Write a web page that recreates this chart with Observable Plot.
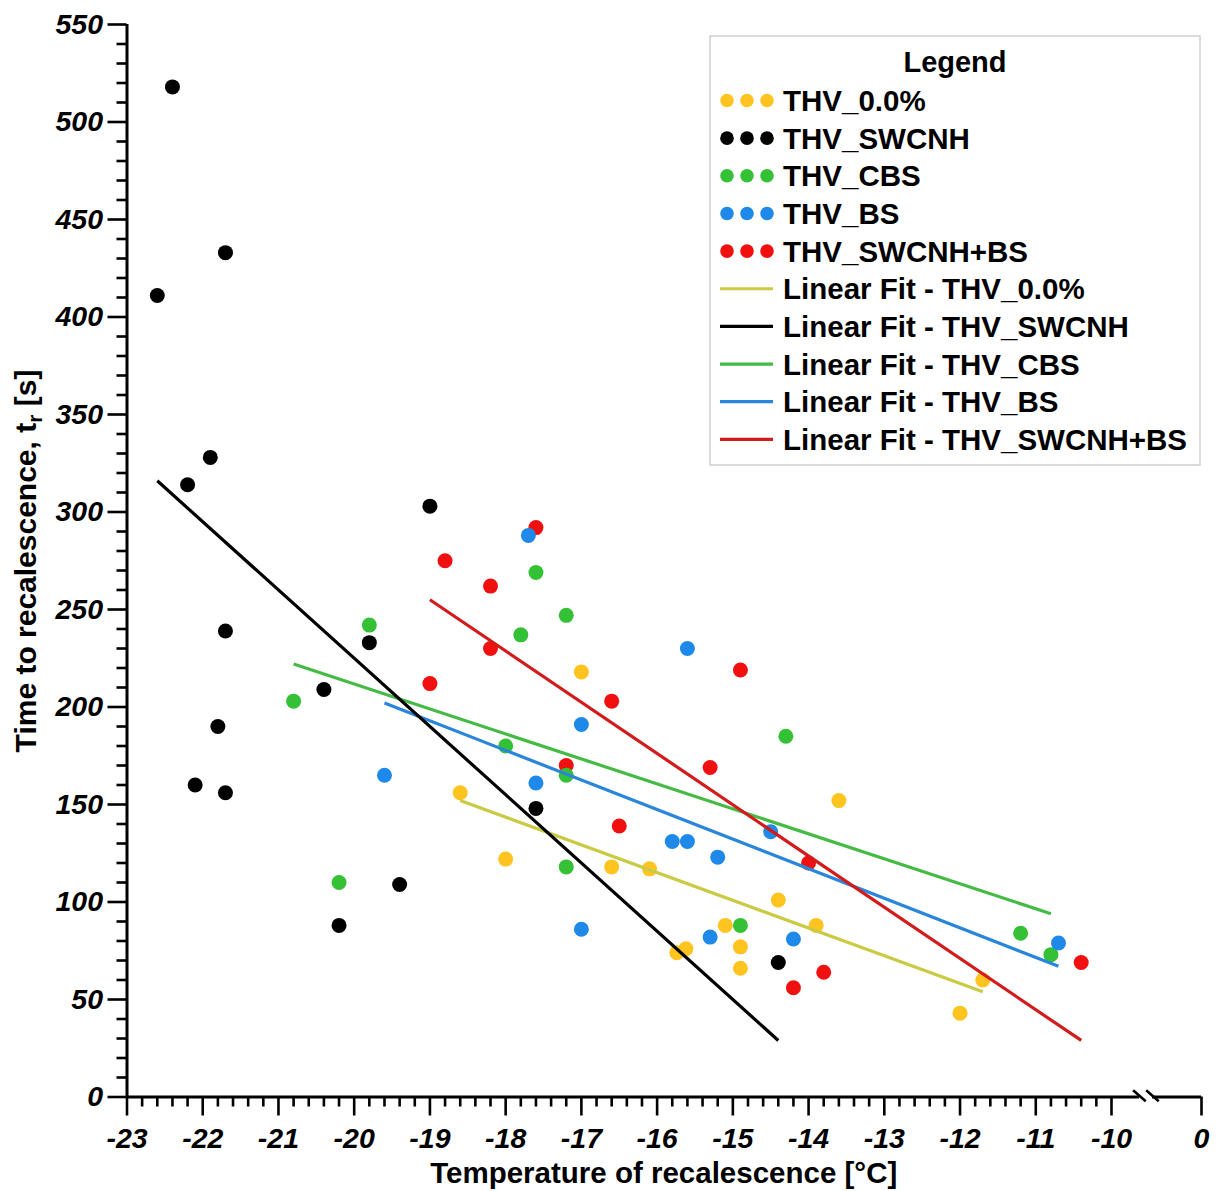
<!DOCTYPE html>
<html><head><meta charset="utf-8">
<script src="https://cdn.jsdelivr.net/npm/d3@7"></script>
<script src="https://cdn.jsdelivr.net/npm/@observablehq/plot@0.6"></script>
<style>
body{margin:0;background:#fff;}
#wrap{width:1226px;height:1191px;}
</style></head><body><div id="wrap"></div>
<script>
// ---- series ----
const series = ["THV_0.0%", "THV_SWCNH", "THV_CBS", "THV_BS", "THV_SWCNH+BS"];
const dotColors = ["#FFC41F", "#000000", "#35C135", "#1F89EA", "#F01010"];
const fitColors = ["#CACA44", "#000000", "#45BB45", "#2A86DA", "#D21B1B"];

// THV_0.0%
const x00 = [-18.6, -17.0, -18.0, -16.6, -16.1, -13.6, -14.4, -15.1, -13.9, -14.9, -14.9, -11.7, -12.0, -15.74, -15.62];
const y00 = [156, 218, 122, 118, 117, 152, 101, 88, 88, 77, 66, 60, 43, 74, 76];
// THV_SWCNH
const xSW = [-22.6, -22.4, -21.7, -21.9, -22.2, -21.7, -21.8, -22.1, -21.7, -20.4, -19.8, -19.0, -20.2, -19.4, -17.6, -14.4];
const ySW = [411, 518, 433, 328, 314, 239, 190, 160, 156, 209, 233, 303, 88, 109, 148, 69];
// THV_CBS
const xCBS = [-20.2, -19.8, -20.8, -17.6, -17.2, -17.8, -18.0, -17.2, -17.2, -14.3, -14.9, -11.2, -10.8];
const yCBS = [110, 242, 203, 269, 247, 237, 180, 165, 118, 185, 88, 84, 73];
// THV_BS
const xBS = [-19.6, -17.7, -15.6, -17.0, -17.6, -15.8, -15.6, -15.2, -14.5, -15.3, -14.2, -10.7, -17.0];
const yBS = [165, 288, 230, 191, 161, 131, 131, 123, 136, 82, 81, 79, 86];
// THV_SWCNH+BS
const xSB = [-17.6, -18.8, -18.2, -18.2, -19.0, -14.9, -16.6, -17.2, -15.3, -16.5, -14.0, -13.8, -14.2, -10.4];
const ySB = [292, 275, 262, 230, 212, 219, 203, 170, 169, 139, 120, 64, 56, 69];

// Linear fit end points (series order)
const fitX1 = [-18.6, -22.6, -20.8, -19.6, -19.0];
const fitY1 = [152, 316, 222, 202, 255];
const fitX2 = [-11.7, -14.4, -10.8, -10.7, -10.4];
const fitY2 = [54, 29, 94, 67, 29];

// ticks
const xTickLabels = [-23, -22, -21, -20, -19, -18, -17, -16, -15, -14, -13, -12, -11, -10, 0];
const yTickLabels = [0, 50, 100, 150, 200, 250, 300, 350, 400, 450, 500, 550];
const axisBreak = [-6.9, -5.45];

const xTitle = "Temperature of recalescence [°C]";
const yTitle = ["Time to recalescence, t", "r", " [s]"];

// ---- build tables ----
const xs = [x00, xSW, xCBS, xBS, xSB];
const ys = [y00, ySW, yCBS, yBS, ySB];
const pts = series.map((s, i) => xs[i].map((x, j) => ({series: s, x, y: ys[i][j], color: dotColors[i]})));
const fits = series.map((s, i) => ({series: s, x1: fitX1[i], y1: fitY1[i], x2: fitX2[i], y2: fitY2[i], color: fitColors[i]}));

const xMinor = d3.range(-23, -10.001, 0.2).map(v => +v.toFixed(1)).filter(v => Math.abs(v - Math.round(v)) > 1e-6);
const yMinor = d3.range(0, 551, 10).filter(v => v % 50 !== 0);

const FONT = "Liberation Sans, Arial, Helvetica, sans-serif";
const dotOrder = [4, 0, 2, 3, 1];
const fitOrder = [0, 2, 3, 4, 1];

const chart = Plot.plot({
  width: 1226,
  height: 1191,
  marginLeft: 126.5,
  marginRight: 25,
  marginTop: 24,
  marginBottom: 94.5,
  style: {fontFamily: FONT, background: "#fff"},
  x: {type: "linear", domain: [-23, -10, 0], range: [126.5, 1111, 1201], axis: null},
  y: {type: "linear", domain: [0, 550], range: [1096.5, 24], axis: null},
  marks: [
    // y axis
    Plot.axisY({ticks: yMinor, tickSize: 10, tickFormat: () => "", strokeWidth: 2.6, label: null}),
    Plot.axisY({ticks: yTickLabels, tickSize: 19, tickPadding: 5, tickFormat: d => String(d), strokeWidth: 2.6,
      fontSize: 28.5, fontWeight: "bold", fontStyle: "italic", fill: "#000", label: null}),
    Plot.ruleX([-23], {y1: 0, y2: 550, strokeWidth: 3}),
    // x axis
    Plot.axisX({ticks: xMinor, tickSize: 10, tickFormat: () => "", strokeWidth: 2.6, label: null}),
    Plot.axisX({ticks: xTickLabels, tickSize: 19, tickPadding: 12, tickFormat: d => String(d), strokeWidth: 2.6,
      fontSize: 28.5, fontWeight: "bold", fontStyle: "italic", fill: "#000", label: null}),
    Plot.ruleY([0], {x1: -23, x2: axisBreak[0], strokeWidth: 3}),
    Plot.ruleY([0], {x1: axisBreak[1], x2: 0, strokeWidth: 3}),
    Plot.link(axisBreak, {x1: d => d - 0.7, x2: d => d + 0.7, y1: () => 3.5, y2: () => -2.2, stroke: "#000", strokeWidth: 2.6}),
    // points
    ...dotOrder.map(i => Plot.dot(pts[i], {x: "x", y: "y", r: 7.5, fill: dotColors[i], stroke: "none"})),
    // fits
    ...fitOrder.map(i => Plot.link([fits[i]], {x1: "x1", y1: "y1", x2: "x2", y2: "y2", stroke: fitColors[i], strokeWidth: 3.2}))
  ]
});

document.getElementById("wrap").appendChild(chart);

// ---- titles & legend ----
const svg = d3.select(chart);
svg.append("text")
  .attr("x", 663.75).attr("y", 1183)
  .attr("text-anchor", "middle")
  .attr("font-family", FONT).attr("font-weight", "bold").attr("font-size", 29.5)
  .attr("fill", "#000")
  .text(xTitle);

const yt = svg.append("text")
  .attr("transform", "translate(36,561) rotate(-90)")
  .attr("text-anchor", "middle")
  .attr("font-family", FONT).attr("font-weight", "bold").attr("font-size", 30)
  .attr("fill", "#000");
yt.append("tspan").text(yTitle[0]);
yt.append("tspan").attr("font-size", 21).attr("dy", 6).text(yTitle[1]);
yt.append("tspan").attr("dy", -6).text(yTitle[2]);

const lg = svg.append("g").attr("text-anchor", "start");
lg.append("rect").attr("x", 710).attr("y", 36).attr("width", 490).attr("height", 429)
  .attr("fill", "#fff").attr("stroke", "#cfcfcf").attr("stroke-width", 1.5);
lg.append("text").attr("x", 955).attr("y", 72).attr("text-anchor", "middle")
  .attr("font-family", FONT).attr("font-weight", "bold").attr("font-size", 29).attr("fill", "#000")
  .text("Legend");
const rowStart = 100.5, rowStep = 37.65;
const entries = [
  ...series.map((s, i) => ({kind: "dot", label: s, color: dotColors[i]})),
  ...series.map((s, i) => ({kind: "line", label: "Linear Fit - " + s, color: fitColors[i]}))
];
entries.forEach((e, k) => {
  const cy = rowStart + k * rowStep;
  if (e.kind === "dot") {
    [727, 747, 767].forEach(cx => lg.append("circle").attr("cx", cx).attr("cy", cy).attr("r", 6.8).attr("fill", e.color));
  } else {
    lg.append("line").attr("x1", 720).attr("x2", 773).attr("y1", cy).attr("y2", cy)
      .attr("stroke", e.color).attr("stroke-width", 3.2);
  }
  lg.append("text").attr("x", 783).attr("y", cy + 10.5).attr("text-anchor", "start")
    .attr("font-family", FONT).attr("font-weight", "bold").attr("font-size", 29.5).attr("fill", "#000")
    .text(e.label);
});
</script></body></html>
